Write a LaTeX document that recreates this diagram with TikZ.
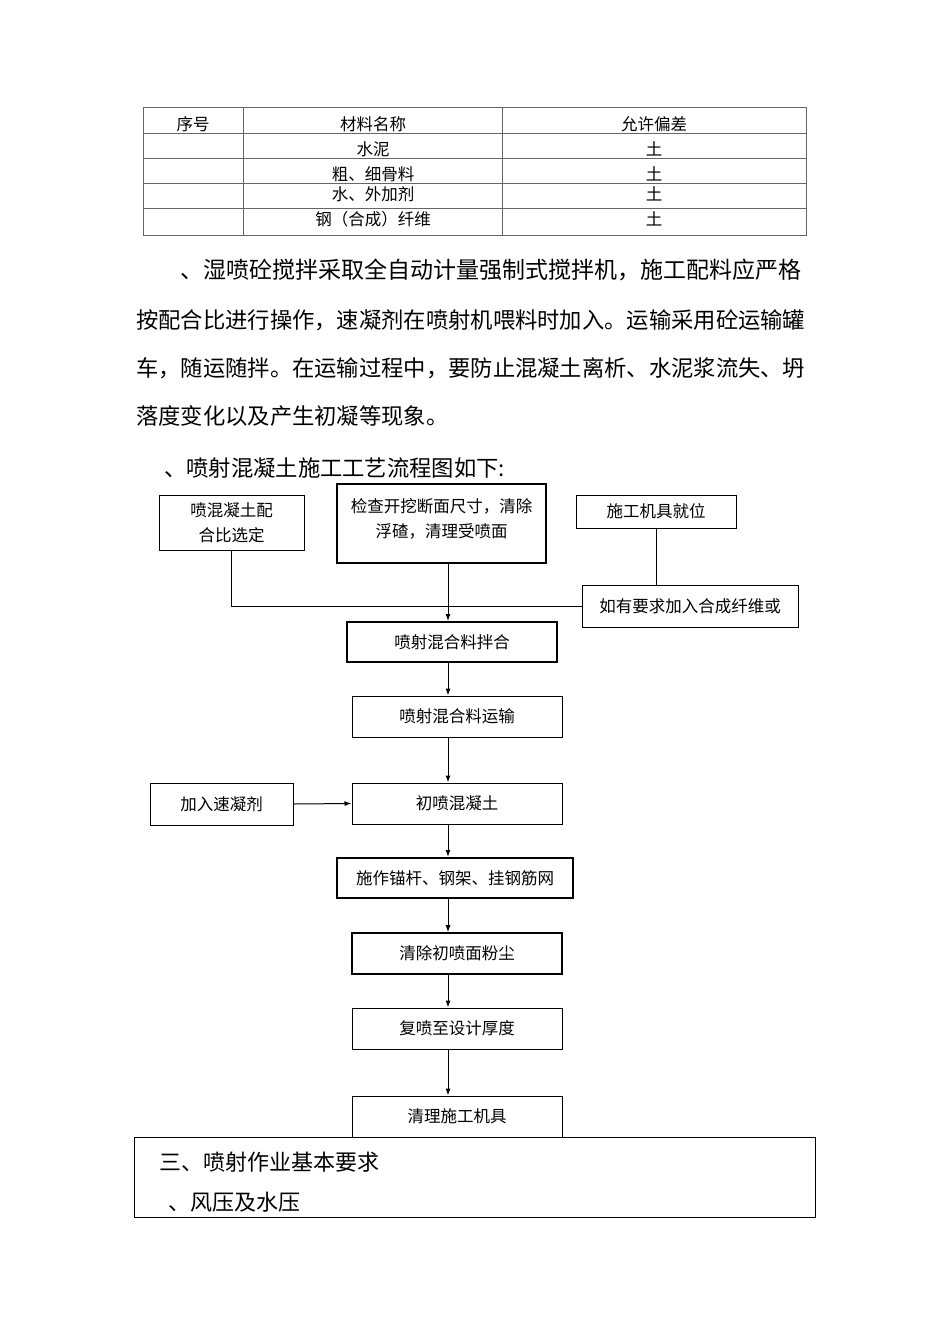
\documentclass[tikz,border=0pt]{standalone}
\usepackage{fontspec}
\setmainfont{Noto Sans CJK SC}
\usetikzlibrary{arrows.meta}
\begin{document}
\begin{tikzpicture}[x=1pt,y=-1pt,
  small/.style={font=\fontsize{16.5}{25}\selectfont},
  big/.style={font=\fontsize{22.3}{30}\selectfont},
  box/.style={draw=black,line width=1pt,inner sep=0pt,align=center,small},
  thick box/.style={box,line width=2pt},
  tline/.style={draw=black!60,line width=0.9pt},
  conn/.style={draw=black,line width=1pt},
  arr/.style={conn,-{Latex[length=7pt,width=5pt]}}]
\useasboundingbox (0,0) rectangle (950,1344);
% table
\draw[tline] (143,107) rectangle (806,235);
\draw[tline] (243,107) -- (243,235) (502,107) -- (502,235);
\foreach \yy in {133,158,183,208} \draw[tline] (143,\yy) -- (806,\yy);
\node[small] (h1) at (193,124) {序号};
\node[small] (h2) at (373,124) {材料名称};
\node[small] (h3) at (654,124) {允许偏差};
\node[small] (m1) at (373,149) {水泥};
\node[small] (m2) at (373,174) {粗、细骨料};
\node[small] (m3) at (373,194) {水、外加剂};
\node[small] (m4) at (373,219) {钢（合成）纤维};
\node[small] (t1) at (654,149) {土};
\node[small] (t2) at (654,174) {土};
\node[small] (t3) at (654,194) {土};
\node[small] (t4) at (654,219) {土};
% paragraph
\node[font=\fontsize{23}{30}\selectfont,anchor=west,inner sep=0pt] (p1) at (180,270) {、湿喷砼搅拌采取全自动计量强制式搅拌机，施工配料应严格};
\node[big,anchor=west,inner sep=0pt] (p2) at (136,320) {按配合比进行操作，速凝剂在喷射机喂料时加入。运输采用砼运输罐};
\node[big,anchor=west,inner sep=0pt] (p3) at (136,368) {车，随运随拌。在运输过程中，要防止混凝土离析、水泥浆流失、坍};
\node[big,anchor=west,inner sep=0pt] (p4) at (136,416) {落度变化以及产生初凝等现象。};
\node[big,anchor=west,inner sep=0pt] (p5) at (164,468) {、喷射混凝土施工工艺流程图如下:};
% flow chart
\coordinate (sp) at (448,0);
\node[box,minimum width=145,minimum height=55] (A) at (231.5,522.5) {喷混凝土配\\合比选定};
\node[thick box,minimum width=209,minimum height=79] (B) at (441.5,523.5) {检查开挖断面尺寸，清除\\浮碴，清理受喷面\\[-13pt]};
\node[box,minimum width=160,minimum height=33] (C) at (656,511.5) {施工机具就位};
\node[box,minimum width=216,minimum height=42] (D) at (690,606) {如有要求加入合成纤维或};
\node[thick box,minimum width=210,minimum height=40] (E) at (452,642) {喷射混合料拌合};
\node[box,minimum width=210,minimum height=41] (F) at (457,716.5) {喷射混合料运输};
\node[box,minimum width=210,minimum height=41] (G) at (457,803.5) {初喷混凝土};
\node[box,minimum width=143,minimum height=42] (H) at (221.5,804) {加入速凝剂};
\node[thick box,minimum width=236,minimum height=40] (I) at (455,878) {施作锚杆、钢架、挂钢筋网};
\node[box,line width=1.6pt,minimum width=210,minimum height=41] (J) at (457,953.5) {清除初喷面粉尘};
\node[box,minimum width=210,minimum height=41] (K) at (457,1028.5) {复喷至设计厚度};
\node[box,minimum width=210,minimum height=41] (L) at (457,1116.5) {清理施工机具};
% connectors
\draw[conn] (C.south) -- (C.south |- D.north);
\draw[conn] (A.south) |- (D.west);
\draw[arr] (B.south -| sp) -- (E.north -| sp);
\draw[arr] (E.south -| sp) -- (F.north -| sp);
\draw[arr] (F.south -| sp) -- (G.north -| sp);
\draw[arr] (H.east) -- (G.west);
\draw[arr] (G.south -| sp) -- (I.north -| sp);
\draw[arr] (I.south -| sp) -- (J.north -| sp);
\draw[arr] (J.south -| sp) -- (K.north -| sp);
\draw[arr] (K.south -| sp) -- (L.north -| sp);
% bottom frame
\node[draw=black,line width=1pt,minimum width=681,minimum height=80,inner sep=0pt] (M) at (474.5,1177) {};
\node[anchor=west,inner sep=0pt,font=\fontsize{22}{30}\selectfont] (q1) at (159,1162) {三、喷射作业基本要求};
\node[anchor=west,inner sep=0pt,font=\fontsize{22}{30}\selectfont] (q2) at (168,1202) {、风压及水压};
\end{tikzpicture}
\end{document}
